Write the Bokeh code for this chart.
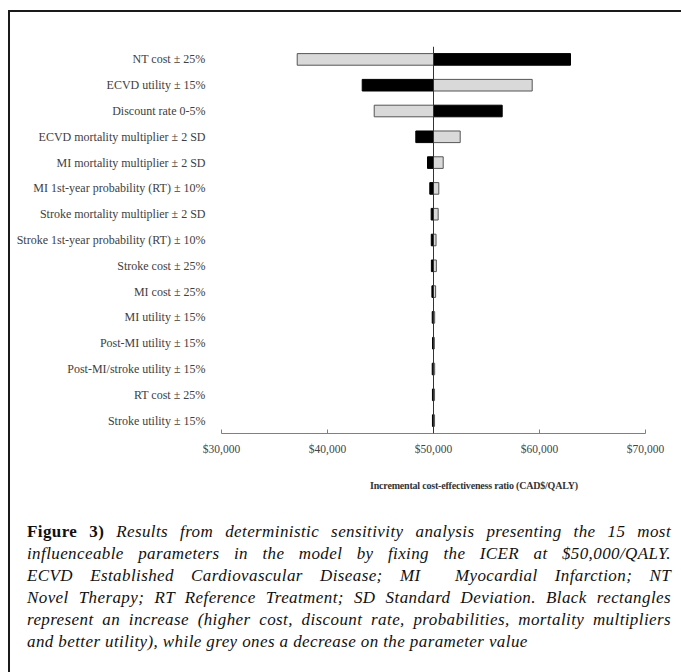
from bokeh.plotting import figure
from bokeh.models import (ColumnDataSource, FactorRange, Range1d, FixedTicker,
                          NumeralTickFormatter, Span, Div)
from bokeh.layouts import column
from bokeh.embed import file_html
from bokeh.resources import INLINE

parameters = [
    "NT cost ± 25%",
    "ECVD utility ± 15%",
    "Discount rate 0-5%",
    "ECVD mortality multiplier ± 2 SD",
    "MI mortality multiplier ± 2 SD",
    "MI 1st-year probability (RT) ± 10%",
    "Stroke mortality multiplier ± 2 SD",
    "Stroke 1st-year probability (RT) ± 10%",
    "Stroke cost ± 25%",
    "MI cost ± 25%",
    "MI utility ± 15%",
    "Post-MI utility ± 15%",
    "Post-MI/stroke utility ± 15%",
    "RT cost ± 25%",
    "Stroke utility ± 15%",
]
# ICER when the parameter is increased (black) / decreased (grey)
icer_increase = [62925, 43274, 56481, 48330, 49434, 49650, 49780, 49790,
                 49800, 49850, 49880, 49910, 49880, 49900, 49900]
icer_decrease = [37142, 59311, 44406, 52519, 50915, 50500, 50440, 50240,
                 50270, 50200, 50110, 50080, 50110, 50100, 50100]
base_icer = 50000
x_ticks = [30000, 40000, 50000, 60000, 70000]
x_title = "Incremental cost-effectiveness ratio (CAD$/QALY)"

src = ColumnDataSource(dict(
    param=parameters,
    base=[base_icer] * len(parameters),
    inc=icer_increase,
    dec=icer_decrease,
))

serif = "Liberation Serif"

p = figure(
    y_range=FactorRange(*reversed(parameters)),
    x_range=Range1d(30000, 70000),
    frame_width=424, frame_height=387,
    min_border_left=211, min_border_right=35,
    min_border_top=34, min_border_bottom=25,
    output_backend="svg", toolbar_location=None,
)
p.outline_line_color = None
p.xgrid.grid_line_color = None
p.ygrid.grid_line_color = None
p.background_fill_color = "white"
p.border_fill_color = "white"

p.hbar(y="param", left="base", right="dec", height=0.45, source=src,
       fill_color="#d9d9d9", line_color="#555555", line_width=1)
p.hbar(y="param", left="base", right="inc", height=0.45, source=src,
       fill_color="#000000", line_color="#000000", line_width=1)

p.add_layout(Span(location=base_icer, dimension="height",
                  line_color="#333333", line_width=1))

# x axis
xa = p.xaxis[0]
xa.ticker = FixedTicker(ticks=x_ticks)
xa.formatter = NumeralTickFormatter(format="$0,0")
xa.axis_line_color = "#808080"
xa.major_tick_line_color = "#808080"
xa.major_tick_in = 4
xa.major_tick_out = 0
xa.minor_tick_line_color = None
xa.major_label_text_font = serif
xa.major_label_text_font_size = "11.5px"
xa.major_label_text_color = "#444444"
xa.major_label_standoff = 9

# y axis
ya = p.yaxis[0]
ya.axis_line_color = None
ya.major_tick_line_color = None
ya.minor_tick_line_color = None
ya.major_label_text_font = serif
ya.major_label_text_font_size = "12px"
ya.major_label_text_color = "#404040"
ya.major_label_standoff = 10

caption_lines = [
    "<b style='font-style:normal'>Figure 3)</b> Results from deterministic sensitivity analysis presenting the 15 most",
    "influenceable parameters in the model by fixing the ICER at $50,000/QALY.",
    "ECVD Established Cardiovascular Disease; MI&nbsp; Myocardial Infarction; NT",
    "Novel Therapy; RT Reference Treatment; SD Standard Deviation. Black rectangles",
    "represent an increase (higher cost, discount rate, probabilities, mortality multipliers",
    "and better utility), while grey ones a decrease on the parameter value",
]
html = ("<div style='width:300px;margin-left:297px;text-align:center;"
        "font-style:normal;font-weight:bold;font-size:10px;line-height:14px;"
        "color:#333333;letter-spacing:-0.2px;margin-bottom:28px;'>%s</div>" % x_title)
html += "<div style='width:644px;'>"
for i, ln in enumerate(caption_lines):
    last = "left" if i == len(caption_lines) - 1 else "justify"
    html += ("<div style='text-align:justify;text-align-last:%s;white-space:nowrap;'>%s</div>"
             % (last, ln))
html += "</div>"

cap = Div(
    text=html, width=670, height=212,
    styles={"font-family": "'Liberation Serif', serif", "font-style": "italic",
            "font-size": "17px", "line-height": "22px", "color": "#111111",
            "letter-spacing": "0.4px",
            "padding-left": "12px", "padding-top": "16px",
            "box-sizing": "border-box", "background": "white"},
)

layout = column(p, cap, spacing=0, margin=(10, 0, 0, 8),
                styles={"border-top": "2px solid #1a1a1a",
                        "border-left": "2px solid #1a1a1a"})

open("out.html", "w").write(file_html(layout, INLINE))
